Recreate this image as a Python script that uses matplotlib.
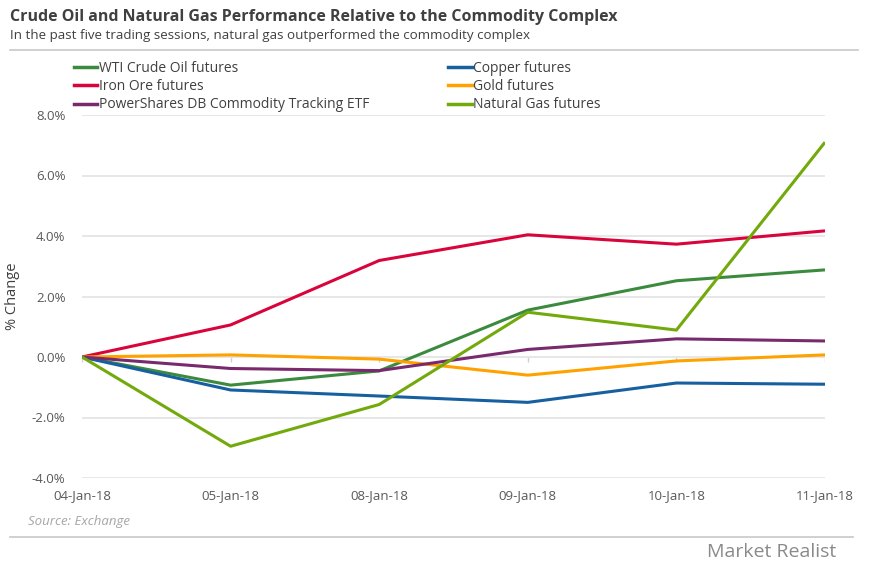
import matplotlib
matplotlib.use("Agg")
import matplotlib.pyplot as plt
from matplotlib.lines import Line2D

dates = ["04-Jan-18", "05-Jan-18", "08-Jan-18", "09-Jan-18", "10-Jan-18", "11-Jan-18"]
wti = [0.0, -0.93, -0.46, 1.55, 2.52, 2.88]
copper = [0.0, -1.09, -1.29, -1.50, -0.86, -0.90]
iron_ore = [0.0, 1.06, 3.19, 4.04, 3.73, 4.17]
gold = [0.0, 0.07, -0.07, -0.60, -0.13, 0.07]
powershares = [0.0, -0.38, -0.45, 0.25, 0.60, 0.53]
nat_gas = [0.0, -2.95, -1.57, 1.48, 0.89, 7.10]
yticks = [-4, -2, 0, 2, 4, 6, 8]

series = [
    ("WTI Crude Oil futures", wti, "#3b8a3e"),
    ("Copper futures", copper, "#17609f"),
    ("Iron Ore futures", iron_ore, "#d9043b"),
    ("Gold futures", gold, "#ffa200"),
    ("PowerShares DB Commodity Tracking ETF", powershares, "#792a6d"),
    ("Natural Gas futures", nat_gas, "#72a90b"),
]

plt.rcParams['font.family'] = ['Open Sans', 'DejaVu Sans']

fig = plt.figure(figsize=(8.7, 5.66), dpi=100)
ax = fig.add_axes([82/870, 1-478/566, (825-82)/870, (478-115)/566])

x = list(range(len(dates)))
for name, vals, col in series:
    ax.plot(x, vals, color=col, lw=2.2, solid_capstyle='butt', zorder=3)

ax.set_xlim(0, len(dates)-1)
ax.set_ylim(-4, 8)
ax.set_yticks(yticks)
ax.set_yticklabels([f"{v:.1f}%" for v in yticks])
ax.set_xticks(x)
ax.set_xticklabels(dates)
ax.grid(axis='y', color='#e3e3e3', lw=1.2, zorder=0)
ax.vlines(x, -0.15, 0, color='#d0d0d0', lw=1, zorder=1)
for s in ax.spines.values():
    s.set_visible(False)
ax.tick_params(axis='both', length=0, labelsize=9.5, labelcolor='#595959')
ax.tick_params(axis='y', pad=12)
ax.tick_params(axis='x', pad=8)
ax.set_ylabel("% Change", fontsize=10.5, color='#404040', labelpad=8)

# legend (row-major order -> reorder for matplotlib's column-major fill)
order = [0, 2, 4, 1, 3, 5]
handles = [Line2D([0], [0], color=series[i][2], lw=2.5) for i in order]
labels = [series[i][0] for i in order]
fig.legend(handles, labels, ncol=2, loc='upper left', bbox_to_anchor=(68/870, 1-55/566),
           frameon=False, fontsize=10, labelcolor='#404040', handlelength=1.7,
           handletextpad=0.1, columnspacing=5.7, labelspacing=0.25, borderaxespad=0)

fig.text(10/870, 1-17/566, "Crude Oil and Natural Gas Performance Relative to the Commodity Complex",
         fontsize=11.5, fontweight='bold', color='#404040', va='center', ha='left')
fig.text(10/870, 1-35/566, "In the past five trading sessions, natural gas outperformed the commodity complex",
         fontsize=9.6, color='#404040', va='center', ha='left')
fig.add_artist(Line2D([10/870, 858/870], [1-50/566, 1-50/566], color='#c8c8c8', lw=1.2))
fig.add_artist(Line2D([10/870, 853/870], [1-537/566, 1-537/566], color='#c8c8c8', lw=1.2))
fig.text(28/870, 1-522/566, "Source: Exchange", fontsize=9.5, style='italic', color='#a6a6a6',
         va='center', ha='left')
fig.text(836/870, 1-552/566, "Market Realist", fontsize=14, color='#8a8a8a', va='center', ha='right')

fig.savefig("out.png", dpi=100)
